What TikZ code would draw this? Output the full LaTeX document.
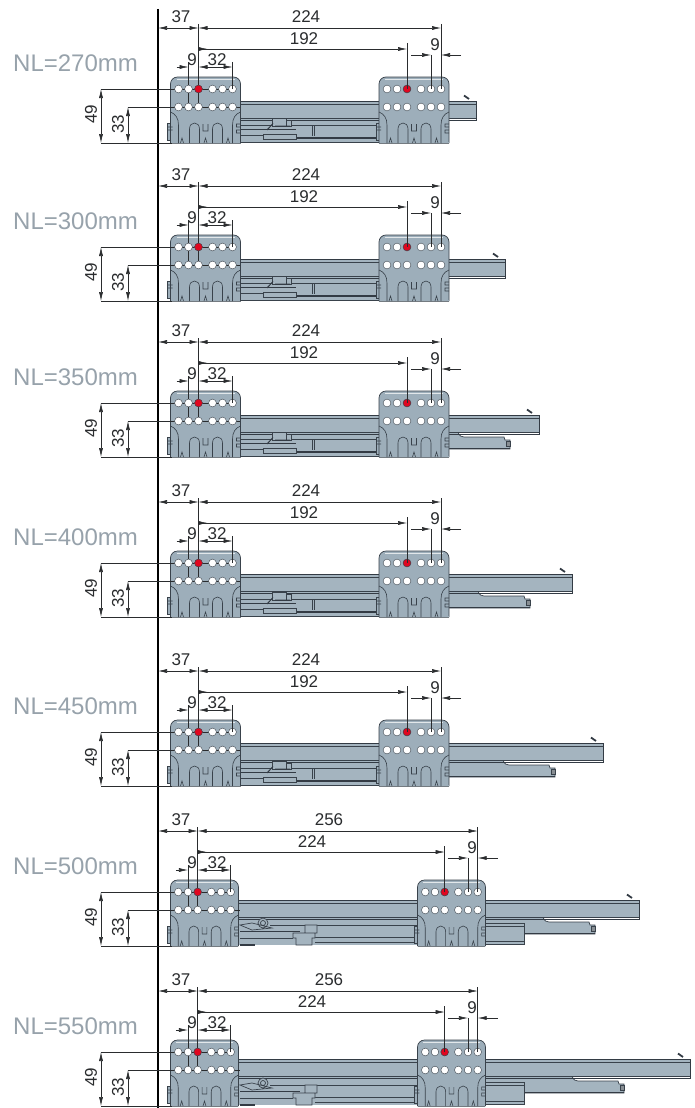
\documentclass[tikz,border=0pt]{standalone}
\usepackage{fontspec}
\setmainfont{Liberation Sans}
\usetikzlibrary{arrows.meta}
\definecolor{steel}{HTML}{9DAEBA}
\definecolor{railgrey}{HTML}{A4B4BF}
\definecolor{edgedark}{HTML}{39424B}
\definecolor{inkdark}{HTML}{2A2C2E}
\definecolor{nlgrey}{HTML}{97A2AB}
\definecolor{pinred}{HTML}{E0061F}
\tikzset{
  wallline/.style={draw=black,line width=1.2pt},
  leader/.style={draw=inkdark,line width=.55pt},
  dimboth/.style={leader,{Latex[length=9pt,width=4pt]}-{Latex[length=9pt,width=4pt]}},
  dimin/.style={leader,-{Latex[length=9pt,width=4pt]}},
  dimtext/.style={text=inkdark,font=\fontsize{17}{17}\selectfont,inner sep=0pt},
  nllabel/.style={text=nlgrey,font=\fontsize{24}{24}\selectfont,inner sep=0pt,anchor=west},
  platebody/.style={fill=steel,draw=edgedark,line width=.7pt},
  platedetail/.style={draw=edgedark,line width=.6pt},
  hole/.style={fill=white,draw=edgedark,line width=.4pt},
  redpin/.style={fill=pinred,draw=edgedark,line width=.4pt},
  railbody/.style={fill=railgrey,draw=none},
  railedge/.style={draw=edgedark,line width=.7pt},
  railheavy/.style={draw=edgedark!90!black,line width=1.5pt},
}
\newcommand{\plate}[3]{%
\begin{scope}[shift={(#2,0)},xscale=#3]
\draw[edgedark,line width=.6pt,fill=steel] (-3,34) rectangle (2,51);
\draw[platebody,rounded corners=7pt]
    (0,54) -- (0,-12) -- (70,-12) -- (70,54);
\fill[steel] (.5,53) rectangle (69.5,54);
\draw[edgedark!70,line width=.6pt] (0,54) -- (70,54);
\draw[white!70!steel,line width=.5pt] (6,-10) -- (64,-10);
\draw[platedetail]
    (0,23) .. controls (5,25) and (8,29) .. (8,36) -- (8,54)
    (70,23) .. controls (65,25) and (62,29) .. (62,36) -- (62,54)
    (19,54) -- (19,40) .. controls (19,32) and (29,32) .. (29,40) -- (29,54)
    (42,54) -- (42,40) .. controls (42,32) and (52,32) .. (52,40) -- (52,54)
    (32.5,35) -- (32.5,42) -- (37.5,42) -- (37.5,35)
    (-3,38) -- (2,38) (-3,41) -- (2,41)
    (10,54) -- (11.5,49) -- (13,54)
    (33.5,54) -- (35,49) -- (36.5,54)
    (56,54) -- (57.5,49) -- (59,54)
    (70,35) -- (66,35) -- (66,38) -- (70,38)
    (70,41) -- (66,41) -- (66,44) -- (70,44);
\coordinate (#1h1) at (8,0);
\coordinate (#1h2) at (18,0);
\coordinate (#1h3) at (28,0);
\coordinate (#1h4) at (42,0);
\coordinate (#1h5) at (52,0);
\coordinate (#1h6) at (62,0);
\end{scope}}
\newcommand{\holes}[3]{%
\begin{scope}[shift={(#2,0)},xscale=#3]
\foreach \holex in {8,18,28,42,52,62} {
  \draw[hole] (\holex,0) circle (3.9pt);
  \draw[hole] (\holex,18) circle (3.9pt);
}
\draw[redpin] (28,0) circle (3.9pt);
\end{scope}}
\begin{document}
\begin{tikzpicture}[x=1pt,y=-1pt]
\useasboundingbox (0,0) rectangle (695,1108);
\coordinate (walltop) at (158,9);
\coordinate (wallbot) at (158,1108);
\draw[wallline] (walltop) -- (wallbot);
\foreach \rowY/\nlText/\railEnd/\lowEnd/\thirdEnd/\plateX/\plateS/\railTop/\distA/\distB/\textA/\textB in {
    89/270/476/0/0/379/1/12/224/192/306/304,
   247/300/505/0/0/379/1/12/224/192/306/304,
   403/350/539/510/0/379/1/12/224/192/306/304,
   563/400/572/530/0/379/1/11/224/192/306/304,
   732/450/603/555/0/379/1/11/224/192/306/304,
   892/500/639/595/524/417.5/.971/8/256/224/329/312,
  1052/550/690/624/524/417.5/.971/7/256/224/329/312} {
\begin{scope}[shift={(0,\rowY)}]
\pgfmathsetmacro{\railBot}{\railTop+17.5}
\pgfmathsetmacro{\lowTop}{\railTop+22}
\pgfmathsetmacro{\lowBot}{\railTop+34}
\pgfmathsetmacro{\plateR}{\plateX+70*\plateS}
\node[nllabel] (nl) at (13,-26) {NL=\nlText mm};
% rails
\ifnum\lowEnd>0
\draw[railedge,fill=railgrey]
    (\plateR,\railBot) -- (\lowEnd-52,\railBot)
    .. controls (\lowEnd-50,\lowTop-1) and (\lowEnd-49,\lowTop) .. (\lowEnd-46,\lowTop)
    -- (\lowEnd-6,\lowTop) -- (\lowEnd-5,\lowTop+3) -- (\lowEnd,\lowTop+3)
    -- (\lowEnd,\lowBot) -- (\plateR,\lowBot);
\draw[railheavy,line width=1pt] (\plateR,\lowBot-1) -- (\lowEnd,\lowBot-1);
\draw[railedge,fill=edgedark!60] (\lowEnd-4,\lowTop+4) rectangle (\lowEnd,\lowTop+9);
\fi
\ifnum\thirdEnd>0
\draw[railedge,fill=railgrey] (\plateR,\lowTop+1) rectangle (\thirdEnd,52);
\draw[railedge] (\plateR,\lowTop+4) -- (\thirdEnd,\lowTop+4) (\plateR,49) -- (\thirdEnd,49);
\fi
\fill[railbody] (235,\railTop) rectangle (\railEnd,\railBot);
\fill[railbody] (235,\railBot) rectangle (\plateX,53);
\draw[railedge]
    (235,\railTop+3) -- (\railEnd,\railTop+3)
    (235,\railBot) -- (\railEnd,\railBot);
\draw[railheavy,line width=1pt]
    (235,\railTop) -- (\railEnd,\railTop)
    (235,\railBot+1.5) -- (\railEnd,\railBot+1.5)
    (\railEnd,\railTop) -- (\railEnd,\railBot+2);
\draw[railheavy,line width=1.8pt]
    (\railEnd-12,\railTop-5.5) -- (\railEnd-7,\railTop-2);
\ifnum\thirdEnd>0
\draw[railedge]
    (270,33) -- (\plateX,33) (240,46) -- (293,46) (315,45) -- (\plateX,45) (315,50) -- (\plateX,50);
\draw[railheavy] (240,39.5) -- (300,39.5);
\draw[railedge,fill=railgrey]
    (305,33) rectangle (317,41)
    (263,31) circle (5pt) (263,31) circle (2.5pt)
    (293,41) -- (315,41) -- (315,46) -- (312,46) -- (312,53) -- (296,53) -- (296,46) -- (293,46) -- cycle
    (240,33) -- (252,31) -- (272,36) -- (252,38) -- cycle;
\draw[railheavy] (240,53) -- (255,53);
\else
\draw[railedge]
    (240,36) -- (296,36) (296,36) -- (\plateX,36) (240,46) -- (263,46)
    (312,36) -- (312,47) (314,36) -- (314,47);
\draw[railheavy] (240,40.5) -- (296,40.5) (296,49) -- (\plateX,49);
\draw[railedge,fill=railgrey]
    (263,45.5) rectangle (296,50)
    (272,29) rectangle (286,37)
    (286,31) rectangle (291,37);
\draw[railheavy,line width=1pt]
    (267,41) -- (273,34.5) (275,37) -- (290,37);
\draw[railedge] (240,53) -- (\plateX,53);
\fi
% plates
\plate{l}{170.5}{\plateS}
\plate{r}{\plateX}{\plateS}
\draw[leader] (101,0) -- (lh6) (128,18) -- (240,18) (101,54) -- (172,54);
\draw[leader] (lh2 |- 0,-27) -- (lh2 |- 0,18);
\draw[leader] (lh3 |- 0,-65) -- (lh3 |- 0,18);
\holes{l}{170.5}{\plateS}
\holes{r}{\plateX}{\plateS}
\draw[leader]
    (lh6 |- 0,-27) -- (lh6)
    (rh3 |- 0,-46) -- (rh3)
    (rh5 |- 0,-34) -- (rh5)
    (rh6 |- 0,-65) -- (rh6);
% dimensions
\draw[dimboth] (walltop |- 0,-61) -- (lh3 |- 0,-61);
\draw[dimboth] (lh3 |- 0,-61) -- (rh6 |- 0,-61);
\draw[dimin] (lh3 |- 0,-40) -- (rh3 |- 0,-40);
\draw[dimin] (lh3 |- 0,-40) -- +(9,0);
\draw[dimin] (lh2 |- 0,-22) +(-12,0) -- (lh2 |- 0,-22);
\draw[dimboth] (lh3 |- 0,-22) -- (lh6 |- 0,-22);
\draw[dimin] (rh5 |- 0,-34) +(-20,0) -- (rh5 |- 0,-34);
\draw[dimin] (rh6 |- 0,-34) +(20,0) -- (rh6 |- 0,-34);
\draw[dimboth] (101,0) -- (101,54);
\draw[dimboth] (128,18) -- (128,54);
\node[dimtext] (da) at (181,-72) {37};
\node[dimtext] (db) at (\textA,-72) {\distA};
\node[dimtext] (dc) at (\textB,-50) {\distB};
\node[dimtext] (dd) at (192,-29) {9};
\node[dimtext] (de) at (217,-29) {32};
\node[dimtext] (df) at ([xshift=4pt]rh5 |- 0,-44) {9};
\node[dimtext,rotate=90] (dg) at (91,25) {49};
\node[dimtext,rotate=90] (dh) at (118,35) {33};
\end{scope}
}
\end{tikzpicture}
\end{document}
